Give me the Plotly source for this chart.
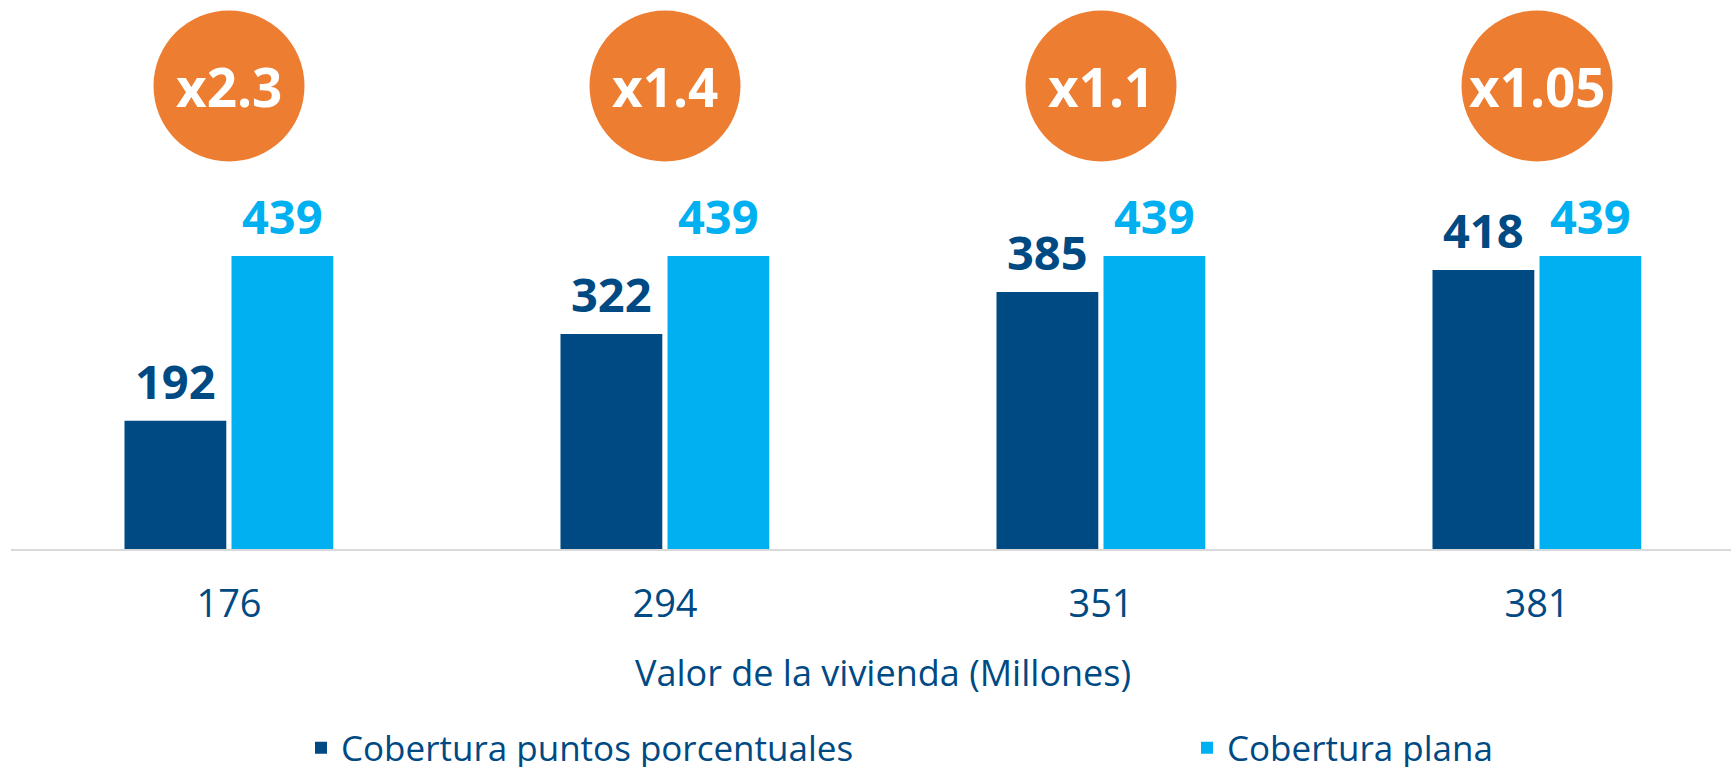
import plotly.graph_objects as go

categories = ["176", "294", "351", "381"]
puntos = [192, 322, 385, 418]
plana = [439, 439, 439, 439]
ratios = ["x2.3", "x1.4", "x1.1", "x1.05"]
series_names = ["Cobertura puntos porcentuales", "Cobertura plana"]
axis_title = "Valor de la vivienda (Millones)"

DARK = "#004A84"
LIGHT = "#00B0F0"
ORANGE = "#ED7D31"
FONT = "Open Sans"

W, H = 1731, 767
ML, MR, MT, MB = 11, 0, 30, 218
plot_w = W - ML - MR
plot_h = H - MT - MB
cat_px = 436.0
px_per_unit = 0.6674

bar_w = 0.2335
off_dark = -0.2397
off_light = 0.0057

fig = go.Figure()
fig.add_trace(go.Bar(
    x=categories, y=puntos, name=series_names[0],
    marker=dict(color=DARK, line=dict(width=0)),
    width=bar_w, offset=off_dark, legend="legend",
))
fig.add_trace(go.Bar(
    x=categories, y=plana, name=series_names[1],
    marker=dict(color=LIGHT, line=dict(width=0)),
    width=bar_w, offset=off_light, legend="legend2",
))

annotations = []
shapes = []
cy = (549 - 86) / plot_h
for i, (a, b, r) in enumerate(zip(puntos, plana, ratios)):
    annotations.append(dict(
        x=i + off_dark + bar_w / 2, y=a, xref="x", yref="y",
        text=f"<b>{a}</b>", showarrow=False, yanchor="bottom", yshift=6,
        font=dict(family=FONT, size=47, color=DARK),
    ))
    annotations.append(dict(
        x=i + off_light + bar_w / 2, y=b, xref="x", yref="y",
        text=f"<b>{b}</b>", showarrow=False, yanchor="bottom", yshift=6,
        font=dict(family=FONT, size=47, color=LIGHT),
    ))
    shapes.append(dict(
        type="circle", xref="x", yref="paper",
        xsizemode="pixel", ysizemode="pixel",
        xanchor=i, yanchor=cy,
        x0=-75.5, x1=75.5, y0=-75.5, y1=75.5,
        fillcolor=ORANGE, line=dict(width=0), layer="above",
    ))
    annotations.append(dict(
        x=i, y=cy, xref="x", yref="paper",
        text=f"<b>{r}</b>", showarrow=False, yanchor="middle", xanchor="center",
        font=dict(family=FONT, size=53, color="white"),
    ))

annotations.append(dict(
    x=(len(categories) - 1) / 2, y=(549 - 672) / plot_h, xref="x", yref="paper",
    text=axis_title, showarrow=False, yanchor="middle", xanchor="center",
    font=dict(family=FONT, size=36, color=DARK),
))

legend_common = dict(
    orientation="h", xref="container", yref="container",
    xanchor="left", y=1 - 748 / H, yanchor="middle",
    font=dict(family=FONT, size=35, color=DARK),
    bgcolor="rgba(0,0,0,0)",
)

fig.update_layout(
    width=W, height=H,
    margin=dict(l=ML, r=MR, t=MT, b=MB, pad=0, autoexpand=False),
    paper_bgcolor="white", plot_bgcolor="white",
    barmode="overlay",
    showlegend=True,
    legend=dict(x=301 / W, **legend_common),
    legend2=dict(x=1187 / W, **legend_common),
    xaxis=dict(
        type="category",
        range=[-0.5, -0.5 + plot_w / cat_px],
        showline=True, linecolor="#D9D9D9", linewidth=2,
        showgrid=False, zeroline=False, ticks="",
        tickfont=dict(family=FONT, size=38, color=DARK),
        ticklabelstandoff=20,
        fixedrange=True,
    ),
    yaxis=dict(
        range=[0, plot_h / px_per_unit],
        visible=False, showgrid=False, zeroline=False, fixedrange=True,
    ),
    annotations=annotations,
    shapes=shapes,
)

fig.write_html(
    "out.html",
    config={"displayModeBar": False},
    post_script="document.body.style.margin='0';document.body.style.padding='0';",
)
